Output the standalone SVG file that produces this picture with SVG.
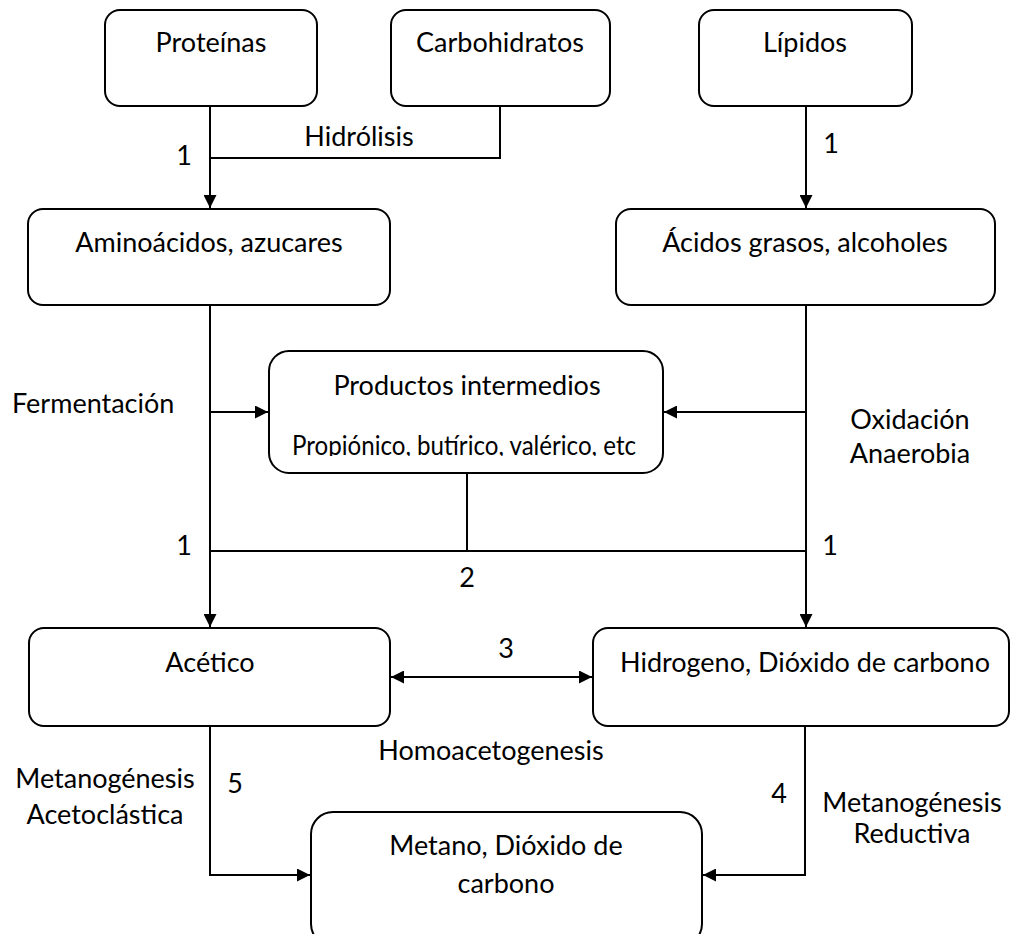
<svg xmlns="http://www.w3.org/2000/svg" width="1011" height="934" viewBox="0 0 1011 934">
<style>
  .box { fill: #ffffff; stroke: #000000; stroke-width: 2; }
  .t { font-family: "Lato", "Liberation Sans", sans-serif; font-size: 27px; fill: #000000; text-anchor: middle; }
  .l { font-family: "Lato", "Liberation Sans", sans-serif; font-size: 27px; fill: #000000; }
  .c { fill: none; stroke: #000000; stroke-width: 2; }
</style>
<defs>
  <marker id="arr" viewBox="0 0 13 13" markerWidth="13" markerHeight="13" refX="13" refY="6.5" orient="auto-start-reverse" markerUnits="userSpaceOnUse">
    <path d="M0,0 L13,6.5 L0,13 z" fill="#000000"/>
  </marker>
  <clipPath id="clipProd">
    <rect x="269" y="351" width="394" height="105"/>
  </clipPath>
</defs>
<rect width="1011" height="934" fill="#ffffff"/>

<g id="connectors">
  <line class="c" x1="210" y1="106" x2="210" y2="208" marker-end="url(#arr)"/>
  <polyline class="c" points="500,106 500,158 210,158"/>
  <line class="c" x1="806" y1="106" x2="806" y2="208" marker-end="url(#arr)"/>
  <line class="c" x1="210" y1="305" x2="210" y2="627" marker-end="url(#arr)"/>
  <line class="c" x1="210" y1="412" x2="268" y2="412" marker-end="url(#arr)"/>
  <line class="c" x1="806" y1="305" x2="806" y2="627" marker-end="url(#arr)"/>
  <line class="c" x1="806" y1="412" x2="664" y2="412" marker-end="url(#arr)"/>
  <line class="c" x1="467" y1="473" x2="467" y2="551"/>
  <line class="c" x1="210" y1="551" x2="806" y2="551"/>
  <line class="c" x1="391" y1="677" x2="592" y2="677" marker-start="url(#arr)" marker-end="url(#arr)"/>
  <polyline class="c" points="210,726 210,875 310,875" marker-end="url(#arr)"/>
  <polyline class="c" points="805,726 805,875 703,875" marker-end="url(#arr)"/>
  <text class="t" x="359" y="146">Hidrólisis</text>
  <text class="t" x="184" y="165">1</text>
  <text class="t" x="831" y="153">1</text>
  <text class="l" x="12" y="413">Fermentación</text>
  <text class="t" x="910" y="429">Oxidación</text>
  <text class="t" x="910" y="463">Anaerobia</text>
  <text class="t" x="184" y="555">1</text>
  <text class="t" x="830" y="555">1</text>
  <text class="t" x="467" y="587">2</text>
  <text class="t" x="506" y="658">3</text>
  <text class="t" x="491" y="760">Homoacetogenesis</text>
  <text class="t" x="105" y="788">Metanogénesis</text>
  <text class="t" x="105" y="824">Acetoclástica</text>
  <text class="t" x="235" y="793">5</text>
  <text class="t" x="779" y="803">4</text>
  <text class="t" x="912" y="812">Metanogénesis</text>
  <text class="t" x="912" y="843">Reductiva</text>
</g>

<g id="proteinas">
  <rect class="box" x="105" y="10" width="212" height="96" rx="15"/>
  <text class="t" x="211" y="52">Proteínas</text>
</g>
<g id="carbohidratos">
  <rect class="box" x="391" y="10" width="219" height="96" rx="15"/>
  <text class="t" x="500" y="52">Carbohidratos</text>
</g>
<g id="lipidos">
  <rect class="box" x="699" y="10" width="213" height="96" rx="15"/>
  <text class="t" x="805" y="52">Lípidos</text>
</g>
<g id="aminoacidos">
  <rect class="box" x="28" y="209" width="362" height="96" rx="15"/>
  <text class="t" x="209" y="252">Aminoácidos, azucares</text>
</g>
<g id="acidos-grasos">
  <rect class="box" x="616" y="209" width="379" height="96" rx="15"/>
  <text class="t" x="805" y="252">Ácidos grasos, alcoholes</text>
</g>
<g id="productos-intermedios">
  <rect class="box" x="269" y="351" width="394" height="122" rx="20"/>
  <text class="t" x="467" y="395">Productos intermedios</text>
  <text class="t" x="464" y="455" textLength="344" lengthAdjust="spacingAndGlyphs" clip-path="url(#clipProd)">Propiónico, butírico, valérico, etc</text>
</g>
<g id="acetico">
  <rect class="box" x="29" y="628" width="361" height="98" rx="15"/>
  <text class="t" x="210" y="672">Acético</text>
</g>
<g id="hidrogeno">
  <rect class="box" x="593" y="628" width="416" height="98" rx="15"/>
  <text class="t" x="805" y="672">Hidrogeno, Dióxido de carbono</text>
</g>
<g id="metano">
  <rect class="box" x="311" y="812" width="391" height="134" rx="22"/>
  <text class="t" x="506" y="855">Metano, Dióxido de</text>
  <text class="t" x="506" y="893">carbono</text>
</g>
</svg>
